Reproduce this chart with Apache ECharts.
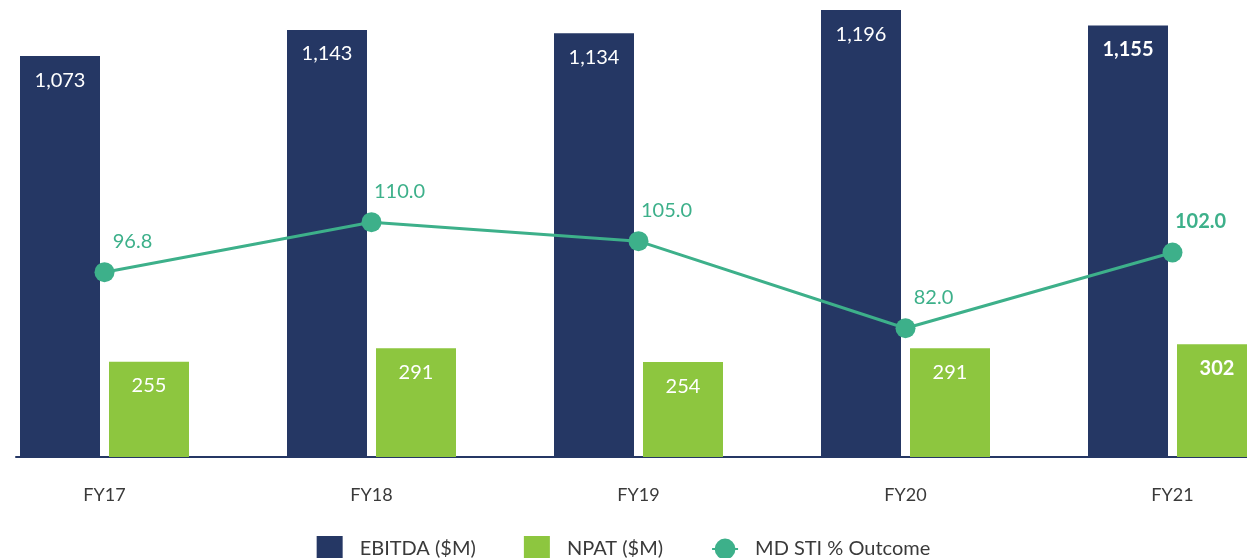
<!DOCTYPE html>
<html><head><meta charset="utf-8">
<script src="https://cdn.jsdelivr.net/npm/echarts@6/dist/echarts.min.js"></script>
<style>html,body{margin:0;padding:0;background:#fff}#c{width:1247px;height:558px}</style>
</head><body><div id="c"></div>
<script>
const categories = ['FY17','FY18','FY19','FY20','FY21'];
const ebitda = [1073, 1143, 1134, 1196, 1155];
const npat = [255, 291, 254, 291, 302];
const stiOutcome = [96.8, 110.0, 105.0, 82.0, 102.0];

const NAVY = '#253764', GREEN = '#8dc63f', TEAL = '#3db08a';
const FONT = 'Lato';
const boldLast = (arr) => arr.map((v, i) => i === arr.length - 1
  ? { value: v, label: { fontWeight: 'bold' } } : v);

const chart = echarts.init(document.getElementById('c'), null, { renderer: 'canvas' });
chart.setOption({
  animation: false,
  textStyle: { fontFamily: FONT },
  grid: [
    { left: -29, right: -59, top: 8.6, bottom: 101, containLabel: false, outerBoundsMode: 'none' },
    { left: 16, right: 0, top: 8.6, bottom: 101, containLabel: false, outerBoundsMode: 'none' }
  ],
  legend: {
    left: 'center', top: 531, itemWidth: 26, itemHeight: 26, itemGap: 48,
    textStyle: { fontFamily: FONT, fontSize: 20, color: '#3a3a3a', padding: [0, 0, 0, 12] },
    data: [
      { name: 'EBITDA ($M)', icon: 'rect' },
      { name: 'NPAT ($M)', icon: 'rect' },
      { name: 'MD STI % Outcome' }
    ]
  },
  xAxis: [
    {
      type: 'category', data: categories, gridIndex: 0,
      axisLine: { show: false }, axisTick: { show: false },
      axisLabel: { margin: 29, fontSize: 18, color: '#3a3a3a', fontFamily: FONT }
    },
    {
      type: 'value', gridIndex: 1, min: 0, max: 1,
      axisLine: { show: true, lineStyle: { color: NAVY, width: 2 } },
      axisTick: { show: false }, axisLabel: { show: false }, splitLine: { show: false }
    }
  ],
  yAxis: [
    { type: 'value', gridIndex: 0, min: 0, max: 1200, show: false, splitLine: { show: false } },
    { type: 'value', gridIndex: 0, min: 48, max: 166.4, show: false, splitLine: { show: false } },
    { type: 'value', gridIndex: 1, min: 0, max: 1, show: false, splitLine: { show: false } }
  ],
  series: [
    {
      name: 'EBITDA ($M)', type: 'bar', xAxisIndex: 0, yAxisIndex: 0,
      barWidth: 80, barGap: '11.25%', itemStyle: { color: NAVY },
      data: boldLast(ebitda),
      label: {
        show: true, position: 'insideTop', distance: 14, color: '#fff', fontSize: 20,
        fontFamily: FONT, formatter: p => p.value.toLocaleString('en-US')
      }
    },
    {
      name: 'NPAT ($M)', type: 'bar', xAxisIndex: 0, yAxisIndex: 0,
      barWidth: 80, itemStyle: { color: GREEN },
      data: boldLast(npat),
      label: {
        show: true, position: 'insideTop', distance: 14, color: '#fff', fontSize: 20,
        fontFamily: FONT, formatter: p => p.value.toLocaleString('en-US')
      }
    },
    {
      name: 'MD STI % Outcome', type: 'line', xAxisIndex: 0, yAxisIndex: 1,
      symbol: 'circle', symbolSize: 20, z: 5,
      itemStyle: { color: TEAL }, lineStyle: { color: TEAL, width: 3 },
      data: boldLast(stiOutcome),
      label: {
        show: true, position: 'top', offset: [28, -6], color: TEAL, fontSize: 20,
        fontFamily: FONT, formatter: p => p.value.toFixed(1)
      }
    }
  ]
});
</script>
</body></html>
